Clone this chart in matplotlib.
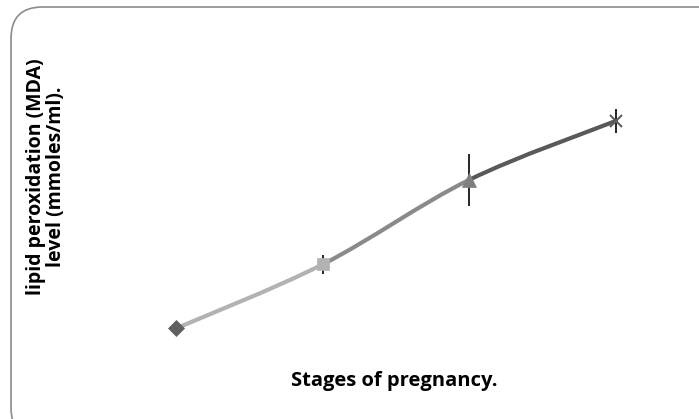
import matplotlib.pyplot as plt
from matplotlib.patches import FancyBboxPatch, PathPatch
from matplotlib.path import Path
import numpy as np

plt.rcParams['font.family'] = ['Open Sans', 'DejaVu Sans']

# stages of pregnancy (no tick labels in the original)
stages = [1, 2, 3, 4]
mda = [1.12, 2.12, 3.44, 4.36]
mda_err = [0.0, 0.15, 0.41, 0.19]

markers = ['D', 's', '^', 'x']
marker_colors = ['#5f5f5f', '#b2b2b2', '#7f7f7f', '#5f5f5f']
marker_sizes = [8, 9, 10, 9]
segment_colors = ['#b2b2b2', '#8a8a8a', '#595959']

fig = plt.figure(figsize=(6.99, 4.19), dpi=100)

# rounded chart frame (runs past the right and bottom edge)
frame = FancyBboxPatch((11 / 699, -20 / 419), 720 / 699, 432 / 419,
                       boxstyle="round,pad=0,rounding_size=0.045",
                       transform=fig.transFigure, fill=False,
                       edgecolor='#8c8c8c', linewidth=1.2,
                       mutation_aspect=699 / 419)
fig.patches.append(frame)

ax = fig.add_axes([103 / 699, 19 / 419, 586 / 699, 320 / 419])
ax.set_xlim(0.5, 4.5)
ax.set_ylim(0, 5)
ax.axis('off')

# smoothed segments (Excel-style bezier through the points)
x = np.array(stages, dtype=float)
y = np.array(mda)
n = len(x)
for i in range(n - 1):
    p0 = np.array([x[max(i - 1, 0)], y[max(i - 1, 0)]])
    p1 = np.array([x[i], y[i]])
    p2 = np.array([x[i + 1], y[i + 1]])
    p3 = np.array([x[min(i + 2, n - 1)], y[min(i + 2, n - 1)]])
    c1 = p1 + (p2 - p0) / 6
    c2 = p2 - (p3 - p1) / 6
    path = Path([p1, c1, c2, p2], [Path.MOVETO, Path.CURVE4, Path.CURVE4, Path.CURVE4])
    ax.add_patch(PathPatch(path, fill=False, edgecolor=segment_colors[i],
                           linewidth=3, capstyle='round', zorder=2))

ax.errorbar(stages, mda, yerr=mda_err, fmt='none', ecolor='black',
            elinewidth=1.2, capsize=0, zorder=3)

for xi, yi, m, c, s in zip(stages, mda, markers, marker_colors, marker_sizes):
    ax.plot(xi, yi, marker=m, color=c, markersize=s,
            markeredgewidth=1.5 if m == 'x' else 0.5, zorder=4, linestyle='none')

fig.text(394 / 699, 1 - 381 / 419, 'Stages of pregnancy.', ha='center', va='center',
         fontsize=14.5, fontweight='bold')
fig.text(46 / 699, 1 - 177 / 419, 'lipid peroxidation (MDA)\nlevel (mmoles/ml).',
         ha='center', va='center', rotation=90, fontsize=14, fontweight='bold',
         linespacing=1.05)

fig.savefig('out.png', dpi=100)
